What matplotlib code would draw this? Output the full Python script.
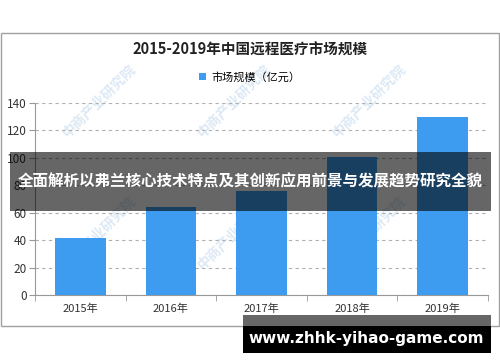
import matplotlib.pyplot as plt
from matplotlib.patches import Rectangle

plt.rcParams['font.family'] = ['Noto Sans CJK SC', 'DejaVu Sans']

# 数据
years = ['2015年', '2016年', '2017年', '2018年', '2019年']
market_size = [41.8, 64.0, 76.0, 100.4, 129.6]
yticks = [0, 20, 40, 60, 80, 100, 120, 140]

fig = plt.figure(figsize=(5, 3.62), dpi=100)
W, H = 500, 362

def fx(x):
    return x / W

def fy(y):
    return 1 - y / H

# 图表外框
fig.patches.append(Rectangle((fx(1), fy(326)), fx(498) - fx(0), fy(33) - fy(326),
                             transform=fig.transFigure, facecolor='white',
                             edgecolor='#a0a0a0', linewidth=1, zorder=-1))

# 水印
for wy in [140, 272]:
    for wx in [60, 195, 330]:
        fig.text(fx(wx), fy(wy), '中商产业研究院', rotation=45, fontsize=10,
                 color='#dce9f5', ha='left', va='bottom', fontweight='bold',
                 zorder=1)

ax = fig.add_axes([fx(35), fy(295), fx(488) - fx(35), fy(103) - fy(295)])
ax.set_zorder(2)
ax.patch.set_alpha(0)
x = range(len(years))
ax.bar(x, market_size, width=0.56, color='#3d9cf0', zorder=3,
       label='市场规模（亿元）')
ax.set_xlim(-0.5, len(years) - 0.5)
ax.set_ylim(0, 140)
ax.set_yticks(yticks)
ax.set_yticklabels([str(v) for v in yticks], fontsize=8.5, color='#333333')
ax.set_xticks(list(x))
ax.set_xticklabels(years, fontsize=8, color='#333333')
ax.set_xticks([i - 0.5 for i in range(len(years) + 1)], minor=True)
ax.tick_params(axis='x', which='major', length=0, pad=6)
ax.tick_params(axis='x', which='minor', length=4, color='#999999')
ax.tick_params(axis='y', length=4, color='#999999', pad=2)
ax.yaxis.grid(True, linestyle=(0, (3, 3)), color='#b0b0b0', linewidth=0.8, zorder=0)
for s in ['top', 'right']:
    ax.spines[s].set_visible(False)
for s in ['left', 'bottom']:
    ax.spines[s].set_color('#999999')

fig.text(0.5, fy(50), '2015-2019年中国远程医疗市场规模', ha='center', va='center',
         fontsize=10.5, fontweight='bold', color='#222222')
fig.legend(loc='center', bbox_to_anchor=(0.5, fy(77)), frameon=False, fontsize=8,
           handlelength=0.6, handleheight=0.6, handletextpad=0.5)

# 横幅
fig.patches.append(Rectangle((fx(10), fy(211)), fx(491) - fx(10), fy(152) - fy(211),
                             transform=fig.transFigure, facecolor='black', alpha=0.6,
                             zorder=10))
fig.text(fx(250), fy(181), '全面解析以弗兰核心技术特点及其创新应用前景与发展趋势研究全貌',
         ha='center', va='center', fontsize=11.2, fontweight='bold', color='white',
         zorder=11)

# 底部网址
fig.patches.append(Rectangle((fx(243), fy(326)), fx(491) - fx(243), fy(315) - fy(326),
                             transform=fig.transFigure, facecolor='#666666', zorder=10))
fig.patches.append(Rectangle((fx(243), fy(353)), fx(491) - fx(243), fy(326) - fy(353),
                             transform=fig.transFigure, facecolor='black', zorder=10))
fig.text(fx(366), fy(338), 'www.zhhk-yihao-game.com', ha='center', va='center',
         fontsize=11, fontweight='bold', color='white', family='DejaVu Sans', zorder=11)

fig.savefig('out.png', dpi=100)
